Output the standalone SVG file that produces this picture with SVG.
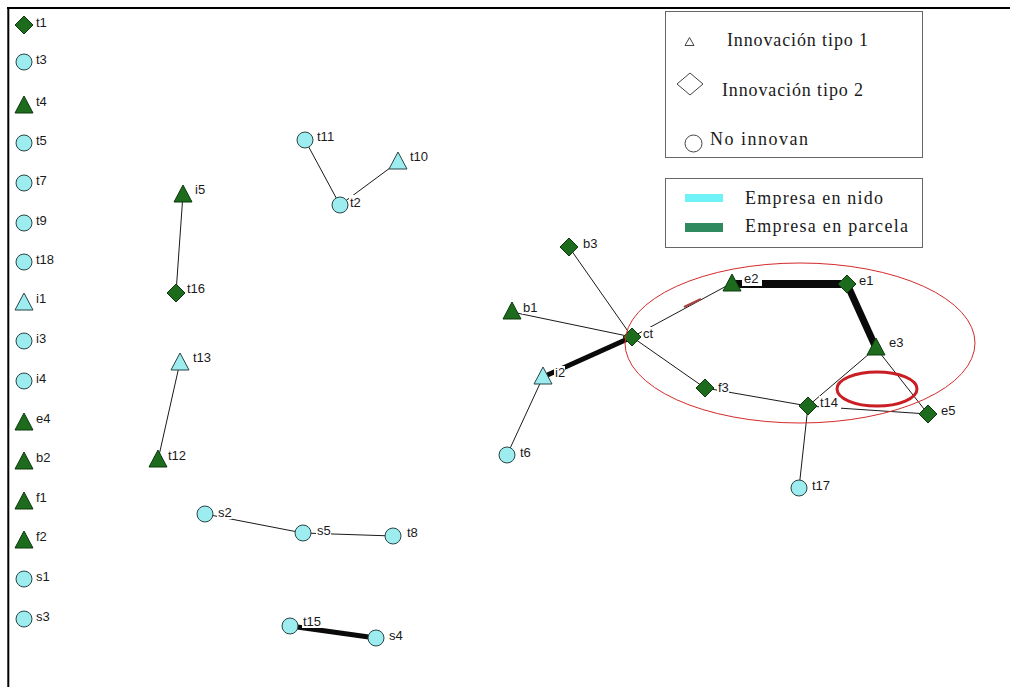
<svg xmlns="http://www.w3.org/2000/svg" xmlns:xlink="http://www.w3.org/1999/xlink" width="1010" height="687" viewBox="0 0 1010 687">
<style>
.e{stroke:#1a1a1a;stroke-width:1;fill:none}
.w5{stroke:#0a0a0a;stroke-width:5;fill:none}
.w7{stroke:#0a0a0a;stroke-width:7;fill:none}
.w8{stroke:#0a0a0a;stroke-width:8;fill:none}
.g{fill:#1d6b1d;stroke:#0c3a0c;stroke-width:1}
.c{fill:#9cecf0;stroke:#2b4545;stroke-width:1}
.lb{font-family:"Liberation Sans",Arial,sans-serif;font-size:13px;fill:#1a1a1a}
.bg{fill:#ffffff}
.lg{font-family:"Liberation Serif","Times New Roman",serif;font-size:18px;fill:#1a1a1a}
.box{fill:#ffffff;stroke:#666;stroke-width:1}
.ol{fill:none;stroke:#444;stroke-width:1}
</style>
<defs>
<circle id="ci" r="8"/>
<path id="tr" d="M0,-9 L9,8 L-9,8 Z"/>
<path id="dm" d="M0,-9 L9,0 L0,9 L-9,0 Z"/>
</defs>
<rect width="1010" height="687" fill="#ffffff"/>
<g id="frame">
<line x1="7" y1="8" x2="1010" y2="8" stroke="#000" stroke-width="2"/>
<line x1="8.3" y1="7" x2="8.3" y2="687" stroke="#000" stroke-width="2"/>
</g>
<g id="connectors">
<line class="e" x1="305" y1="140" x2="340" y2="205"/>
<line class="e" x1="340" y1="205" x2="398" y2="162"/>
<line class="e" x1="183" y1="194" x2="176" y2="293"/>
<line class="e" x1="180" y1="362" x2="158" y2="460"/>
<line class="e" x1="205" y1="514" x2="303" y2="533"/>
<line class="e" x1="303" y1="533" x2="393" y2="536"/>
<line class="w5" x1="290" y1="626" x2="376" y2="638"/>
<line class="e" x1="569" y1="247" x2="632" y2="337"/>
<line class="e" x1="512" y1="312" x2="632" y2="337"/>
<line class="w5" x1="632" y1="337" x2="543" y2="377"/>
<line class="e" x1="543" y1="377" x2="507" y2="455"/>
<line class="e" x1="632" y1="337" x2="705" y2="388"/>
<line class="e" x1="632" y1="337" x2="732" y2="283"/>
<line x1="684" y1="307" x2="701" y2="299" stroke="#a84040" stroke-width="2"/>
<line class="w8" x1="732" y1="284" x2="847" y2="284"/>
<line class="w7" x1="847" y1="284" x2="876" y2="348"/>
<line class="e" x1="876" y1="348" x2="808" y2="406"/>
<line class="e" x1="876" y1="348" x2="928" y2="414"/>
<line class="e" x1="705" y1="388" x2="808" y2="406"/>
<line class="e" x1="808" y1="406" x2="928" y2="414"/>
<line class="e" x1="808" y1="406" x2="799" y2="488"/>
</g>
<g id="n-t1"><use href="#dm" x="24" y="25" class="g"/><rect class="bg" x="35" y="16" width="12" height="13"/><text class="lb" x="36" y="27">t1</text></g>
<g id="n-t3"><use href="#ci" x="24" y="62" class="c"/><rect class="bg" x="35" y="53" width="12" height="13"/><text class="lb" x="36" y="64">t3</text></g>
<g id="n-t4"><use href="#tr" x="24" y="105" class="g"/><rect class="bg" x="35" y="96" width="12" height="13"/><text class="lb" x="36" y="106">t4</text></g>
<g id="n-t5"><use href="#ci" x="24" y="143" class="c"/><rect class="bg" x="35" y="134" width="12" height="13"/><text class="lb" x="36" y="145">t5</text></g>
<g id="n-t7"><use href="#ci" x="24" y="183" class="c"/><rect class="bg" x="35" y="174" width="12" height="13"/><text class="lb" x="36" y="185">t7</text></g>
<g id="n-t9"><use href="#ci" x="24" y="223" class="c"/><rect class="bg" x="35" y="214" width="12" height="13"/><text class="lb" x="36" y="225">t9</text></g>
<g id="n-t18"><use href="#ci" x="24" y="262" class="c"/><rect class="bg" x="35" y="253" width="20" height="13"/><text class="lb" x="36" y="264">t18</text></g>
<g id="n-i1"><use href="#tr" x="24" y="302" class="c"/><rect class="bg" x="35" y="292" width="11" height="13"/><text class="lb" x="36" y="303">i1</text></g>
<g id="n-i3"><use href="#ci" x="24" y="341" class="c"/><rect class="bg" x="35" y="332" width="11" height="13"/><text class="lb" x="36" y="343">i3</text></g>
<g id="n-i4"><use href="#ci" x="24" y="381" class="c"/><rect class="bg" x="35" y="372" width="11" height="13"/><text class="lb" x="36" y="383">i4</text></g>
<g id="n-e4"><use href="#tr" x="24" y="422" class="g"/><rect class="bg" x="35" y="412" width="16" height="13"/><text class="lb" x="36" y="423">e4</text></g>
<g id="n-b2"><use href="#tr" x="24" y="461" class="g"/><rect class="bg" x="35" y="451" width="16" height="13"/><text class="lb" x="36" y="462">b2</text></g>
<g id="n-f1"><use href="#tr" x="24" y="501" class="g"/><rect class="bg" x="35" y="491" width="12" height="13"/><text class="lb" x="36" y="502">f1</text></g>
<g id="n-f2"><use href="#tr" x="24" y="540" class="g"/><rect class="bg" x="35" y="530" width="12" height="13"/><text class="lb" x="36" y="541">f2</text></g>
<g id="n-s1"><use href="#ci" x="24" y="579" class="c"/><rect class="bg" x="35" y="570" width="15" height="13"/><text class="lb" x="36" y="581">s1</text></g>
<g id="n-s3"><use href="#ci" x="24" y="619" class="c"/><rect class="bg" x="35" y="610" width="15" height="13"/><text class="lb" x="36" y="621">s3</text></g>
<g id="n-t11"><use href="#ci" x="305" y="140" class="c"/><rect class="bg" x="316" y="130" width="20" height="13"/><text class="lb" x="317" y="141">t11</text></g>
<g id="n-t10"><use href="#tr" x="398" y="161" class="c"/><rect class="bg" x="409" y="150" width="20" height="13"/><text class="lb" x="410" y="161">t10</text></g>
<g id="n-t2"><use href="#ci" x="340" y="205" class="c"/><rect class="bg" x="349" y="195" width="13" height="14"/><text class="lb" x="350" y="207">t2</text></g>
<g id="n-i5"><use href="#tr" x="183" y="194" class="g"/><rect class="bg" x="194" y="183" width="11" height="13"/><text class="lb" x="195" y="194">i5</text></g>
<g id="n-t16"><use href="#dm" x="176" y="293" class="g"/><rect class="bg" x="186" y="282" width="20" height="13"/><text class="lb" x="187" y="293">t16</text></g>
<g id="n-t13"><use href="#tr" x="180" y="362" class="c"/><rect class="bg" x="192" y="351" width="20" height="13"/><text class="lb" x="193" y="362">t13</text></g>
<g id="n-t12"><use href="#tr" x="158" y="459" class="g"/><rect class="bg" x="167" y="449" width="20" height="13"/><text class="lb" x="168" y="460">t12</text></g>
<g id="n-s2"><use href="#ci" x="205" y="514" class="c"/><rect class="bg" x="217" y="506" width="15" height="13"/><text class="lb" x="218" y="517">s2</text></g>
<g id="n-s5"><use href="#ci" x="303" y="533" class="c"/><rect class="bg" x="316" y="524" width="15" height="13"/><text class="lb" x="317" y="535">s5</text></g>
<g id="n-t8"><use href="#ci" x="393" y="536" class="c"/><rect class="bg" x="406" y="526" width="12" height="13"/><text class="lb" x="407" y="537">t8</text></g>
<g id="n-t15"><use href="#ci" x="290" y="626" class="c"/><rect class="bg" x="302" y="615" width="20" height="13"/><text class="lb" x="303" y="626">t15</text></g>
<g id="n-s4"><use href="#ci" x="376" y="638" class="c"/><rect class="bg" x="388" y="629" width="15" height="13"/><text class="lb" x="389" y="640">s4</text></g>
<g id="n-b3"><use href="#dm" x="569" y="247" class="g"/><rect class="bg" x="582" y="237" width="16" height="13"/><text class="lb" x="583" y="248">b3</text></g>
<g id="n-b1"><use href="#tr" x="512" y="311" class="g"/><rect class="bg" x="522" y="301" width="16" height="13"/><text class="lb" x="523" y="312">b1</text></g>
<g id="n-ct"><use href="#dm" x="632" y="337" class="g"/><rect class="bg" x="642" y="327" width="12" height="13"/><text class="lb" x="643" y="338">ct</text></g>
<g id="n-i2"><use href="#tr" x="543" y="376" class="c"/><rect class="bg" x="554" y="366" width="11" height="13"/><text class="lb" x="555" y="377">i2</text></g>
<g id="n-t6"><use href="#ci" x="507" y="455" class="c"/><rect class="bg" x="519" y="446" width="12" height="13"/><text class="lb" x="520" y="457">t6</text></g>
<g id="n-f3"><use href="#dm" x="705" y="388" class="g"/><rect class="bg" x="717" y="381" width="12" height="13"/><text class="lb" x="718" y="392">f3</text></g>
<g id="n-e2"><use href="#tr" x="732" y="283" class="g"/><rect class="bg" x="742" y="272" width="20" height="14"/><text class="lb" x="744" y="283">e2</text></g>
<g id="n-e1"><use href="#dm" x="847" y="284" class="g"/><rect class="bg" x="858" y="274" width="16" height="13"/><text class="lb" x="859" y="285">e1</text></g>
<g id="n-e3"><use href="#tr" x="876" y="347" class="g"/><rect class="bg" x="888" y="336" width="16" height="13"/><text class="lb" x="889" y="347">e3</text></g>
<g id="n-t14"><use href="#dm" x="808" y="406" class="g"/><rect class="bg" x="819" y="396" width="22" height="14"/><text class="lb" x="820" y="407">t14</text></g>
<g id="n-e5"><use href="#dm" x="928" y="414" class="g"/><rect class="bg" x="940" y="404" width="16" height="13"/><text class="lb" x="941" y="415">e5</text></g>
<g id="n-t17"><use href="#ci" x="799" y="488" class="c"/><rect class="bg" x="811" y="479" width="20" height="13"/><text class="lb" x="812" y="490">t17</text></g>
<g id="highlights">
<ellipse cx="800" cy="343" rx="175" ry="80" fill="none" stroke="#d42a2a" stroke-width="1"/>
<ellipse cx="877" cy="389" rx="40" ry="17" fill="none" stroke="#c81e24" stroke-width="3"/>
</g>
<g id="legend-shapes">
<rect class="box" x="665.5" y="11.5" width="257" height="146"/>
<path class="ol" d="M689.5,37.5 L694,45.5 L685,45.5 Z"/>
<text class="lg" x="727" y="46" textLength="141" lengthAdjust="spacing">Innovación tipo 1</text>
<path class="ol" d="M690,73 L703,84 L690,95 L677,84 Z"/>
<text class="lg" x="722" y="96" textLength="141" lengthAdjust="spacing">Innovación tipo 2</text>
<circle class="ol" cx="693.5" cy="143.5" r="8.5"/>
<text class="lg" x="710" y="145" textLength="98" lengthAdjust="spacing">No innovan</text>
</g>
<g id="legend-location">
<rect class="box" x="665.5" y="178.5" width="257" height="69"/>
<rect x="685" y="194" width="38" height="8" fill="#6ff3f8"/>
<rect x="685" y="223" width="38" height="9" fill="#2f8a5f"/>
<text class="lg" x="745" y="204" textLength="138" lengthAdjust="spacing">Empresa en nido</text>
<text class="lg" x="745" y="232" textLength="163" lengthAdjust="spacing">Empresa en parcela</text>
</g>
</svg>
